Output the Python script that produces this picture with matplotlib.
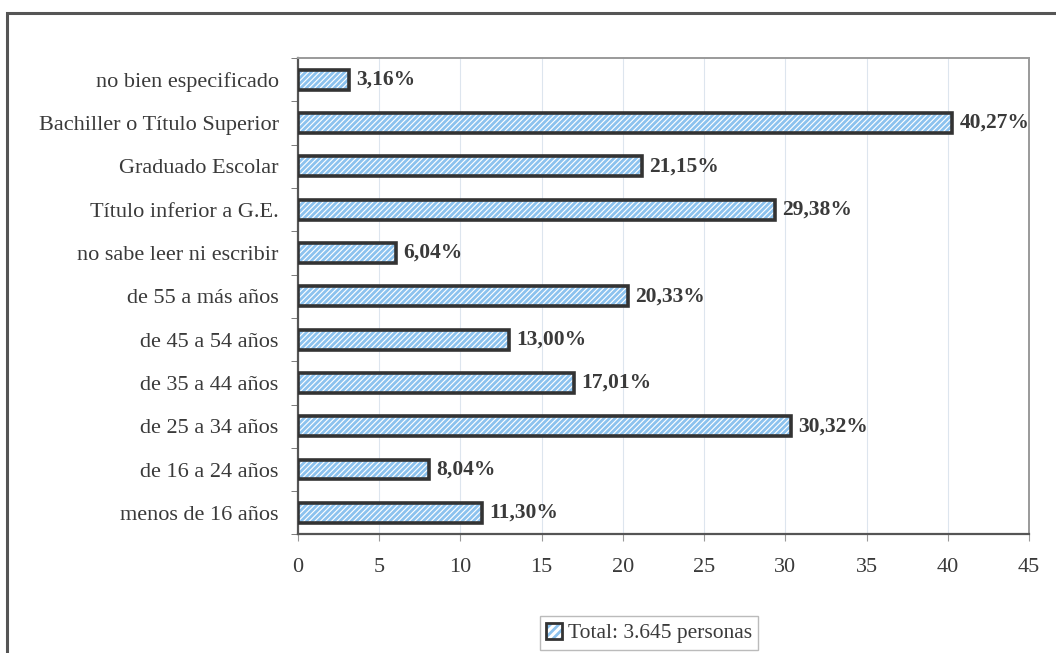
import matplotlib.pyplot as plt
from matplotlib.patches import Rectangle, Patch
from matplotlib.legend_handler import HandlerTuple
import numpy as np

# Datos (de abajo hacia arriba)
categorias = ['menos de 16 años', 'de 16 a 24 años', 'de 25 a 34 años', 'de 35 a 44 años',
              'de 45 a 54 años', 'de 55 a más años', 'no sabe leer ni escribir',
              'Título inferior a G.E.', 'Graduado Escolar', 'Bachiller o Título Superior',
              'no bien especificado']
valores = [11.30, 8.04, 30.32, 17.01, 13.00, 20.33, 6.04, 29.38, 21.15, 40.27, 3.16]
etiquetas = ['11,30%', '8,04%', '30,32%', '17,01%', '13,00%', '20,33%', '6,04%',
             '29,38%', '21,15%', '40,27%', '3,16%']
ticks_x = [0, 5, 10, 15, 20, 25, 30, 35, 40, 45]
leyenda = 'Total: 3.645 personas'

plt.rcParams['font.family'] = ['Liberation Serif', 'DejaVu Serif']
plt.rcParams['hatch.linewidth'] = 2.0
texto = '#3a3a3a'
azul = '#8cc2ee'
borde = '#333333'

fig = plt.figure(figsize=(10.56, 6.53), dpi=100)
ax = fig.add_axes([0.2822, 0.1815, 0.6922, 0.7297])

y = np.arange(len(categorias))
alto = 0.46

# Relleno rayado azul y borde oscuro por separado
ax.barh(y, valores, height=alto, color='white', edgecolor=azul, hatch='//////', linewidth=0, zorder=3)
ax.barh(y, valores, height=alto, fill=False, edgecolor=borde, linewidth=2.6, zorder=4)

for yi, v, t in zip(y, valores, etiquetas):
    ax.text(v + 0.45, yi, t, va='center', ha='left', fontsize=15.5, fontweight='bold', color=texto, zorder=5)

ax.set_xlim(0, 45)
ax.set_ylim(-0.5, len(categorias) - 0.5)
ax.set_xticks(ticks_x)
ax.set_xticklabels([str(t) for t in ticks_x], fontsize=16, color=texto)
ax.set_yticks(y)
ax.set_yticklabels(categorias, fontsize=16, color=texto)
ax.tick_params(axis='y', length=0, pad=14)
ax.set_yticks(np.arange(len(categorias) + 1) - 0.5, minor=True)
ax.tick_params(axis='y', which='minor', length=5, color='#666666', direction='out')
ax.tick_params(axis='x', length=5, color='#999999', direction='out', pad=12)

ax.grid(axis='x', color='#dde5ee', linewidth=0.8, zorder=0)
ax.set_axisbelow(True)

for lado in ['left', 'bottom']:
    ax.spines[lado].set_color('#555555')
    ax.spines[lado].set_linewidth(1.6)
for lado in ['top', 'right']:
    ax.spines[lado].set_color('#9a9a9a')
    ax.spines[lado].set_linewidth(1.4)

# Leyenda
relleno = Patch(facecolor='white', edgecolor=azul, hatch='////', linewidth=0)
marco = Patch(fill=False, edgecolor=borde, linewidth=2)
leg = fig.legend([(relleno, marco)], [leyenda], handler_map={tuple: HandlerTuple(ndivide=1)},
                 loc='center', bbox_to_anchor=(0.6146, 0.0306),
                 fontsize=15.5, frameon=True, fancybox=False, handlelength=0.75, handleheight=0.75,
                 handletextpad=0.25, borderpad=0.3, borderaxespad=0, labelcolor=texto)
leg.get_frame().set_edgecolor('#aaaaaa')
leg.get_frame().set_linewidth(1.0)

# Marco exterior del escaneo
fig.patches.append(Rectangle((7 / 1056, -0.1), 1.2, 1 - 13 / 653 + 0.1, transform=fig.transFigure,
                             fill=False, edgecolor='#555555', linewidth=2.2))

fig.savefig('out.png', dpi=100)
